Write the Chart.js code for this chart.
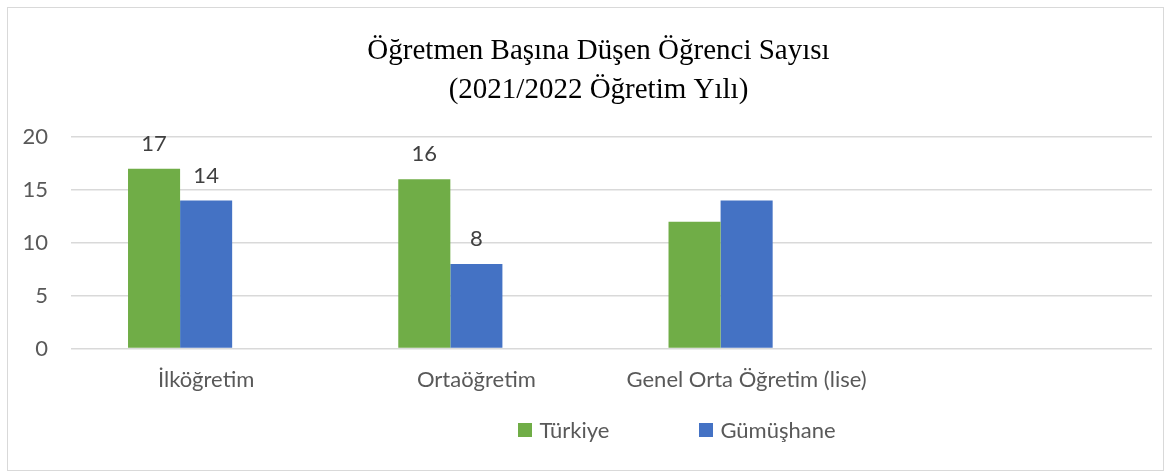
<!DOCTYPE html>
<html>
<head>
<meta charset="utf-8">
<script src="https://cdn.jsdelivr.net/npm/chart.js@4.4.1/dist/chart.umd.min.js"></script>
<style>
  html, body { margin: 0; padding: 0; background: #fff; }
  #wrap {
    position: absolute; left: 7px; top: 7px;
    width: 1155px; height: 462px;
    border: 1px solid #d9d9d9;
  }
</style>
</head>
<body>
<div id="wrap"><canvas id="chart" width="1155" height="462"></canvas></div>
<script>
// Data
const categories = ["İlköğretim", "Ortaöğretim", "Genel Orta Öğretim (lise)", ""];
const turkiye = [17, 16, 12, null];
const gumushane = [14, 8, 14, null];
const spare = [null, null, null, null];
const showValue = [true, true, false, false];
const yTicks = [0, 5, 10, 15, 20];

const GREEN = "#70AD47";
const BLUE = "#4472C4";
const TEXT = "#595959";
const SANS = "Lato, 'Noto Sans', sans-serif";
const FONT_PX = 22;

// value labels above the first two groups
const valueLabels = {
  id: "valueLabels",
  afterDatasetsDraw(chart) {
    const ctx = chart.ctx;
    ctx.save();
    ctx.font = `${FONT_PX}px ${SANS}`;
    ctx.fillStyle = "#404040";
    ctx.textAlign = "center";
    ctx.textBaseline = "middle";
    [0, 1].forEach((di) => {
      const meta = chart.getDatasetMeta(di);
      const data = chart.data.datasets[di].data;
      meta.data.forEach((bar, i) => {
        if (!showValue[i] || data[i] == null) return;
        ctx.fillText(String(data[i]), bar.x, bar.y - 25);
      });
    });
    ctx.restore();
  }
};

// the original title sits a little right of centre
const titleShift = {
  id: "titleShift",
  afterLayout(chart) {
    if (chart.titleBlock) chart.titleBlock.left += 37;
  }
};

// legend drawn in the bottom padding, Excel-style spacing
const bottomLegend = {
  id: "bottomLegend",
  afterDraw(chart) {
    const ctx = chart.ctx;
    const items = chart.data.datasets.filter((d) => d.label);
    const box = 14, gap = 7, between = 90, cx = 669, cy = 422;
    ctx.save();
    ctx.font = `${FONT_PX}px ${SANS}`;
    ctx.textBaseline = "middle";
    ctx.textAlign = "left";
    const widths = items.map((d) => box + gap + ctx.measureText(d.label).width);
    const total = widths.reduce((a, b) => a + b, 0) + between * (items.length - 1);
    let x = cx - total / 2;
    items.forEach((d, i) => {
      ctx.fillStyle = d.backgroundColor;
      ctx.fillRect(Math.round(x), cy - box / 2, box, box);
      ctx.fillStyle = TEXT;
      ctx.fillText(d.label, x + box + gap, cy + 1);
      x += widths[i] + between;
    });
    ctx.restore();
  }
};

new Chart(document.getElementById("chart"), {
  type: "bar",
  data: {
    labels: categories,
    datasets: [
      { label: "Türkiye", data: turkiye, backgroundColor: GREEN },
      { label: "Gümüşhane", data: gumushane, backgroundColor: BLUE },
      { label: "", data: spare, backgroundColor: "transparent" }
    ]
  },
  options: {
    responsive: false,
    animation: false,
    datasets: { bar: { barPercentage: 1, categoryPercentage: 0.578 } },
    layout: { padding: { top: 14, left: 0, right: 11, bottom: 67 } },
    scales: {
      x: {
        grid: { display: false },
        border: { display: false },
        ticks: { color: TEXT, font: { size: FONT_PX, family: SANS }, padding: 10, maxRotation: 0 }
      },
      y: {
        min: 0,
        max: 20,
        afterBuildTicks: (scale) => { scale.ticks = yTicks.map((v) => ({ value: v })); },
        afterFit: (scale) => { scale.width = 63; },
        grid: { color: "#d9d9d9", lineWidth: 1.5, drawTicks: false },
        border: { display: false },
        ticks: { color: TEXT, font: { size: FONT_PX, family: SANS }, padding: 23 }
      }
    },
    plugins: {
      title: {
        display: true,
        text: ["Öğretmen Başına Düşen Öğrenci Sayısı", "(2021/2022 Öğretim Yılı)"],
        color: "#000",
        font: { family: "'Liberation Serif', 'Times New Roman', serif", size: 29, weight: "normal", lineHeight: 1.345 },
        padding: { top: 10, bottom: 27 }
      },
      legend: { display: false },
      tooltip: { enabled: false }
    }
  },
  plugins: [valueLabels, titleShift, bottomLegend]
});
</script>
</body>
</html>
